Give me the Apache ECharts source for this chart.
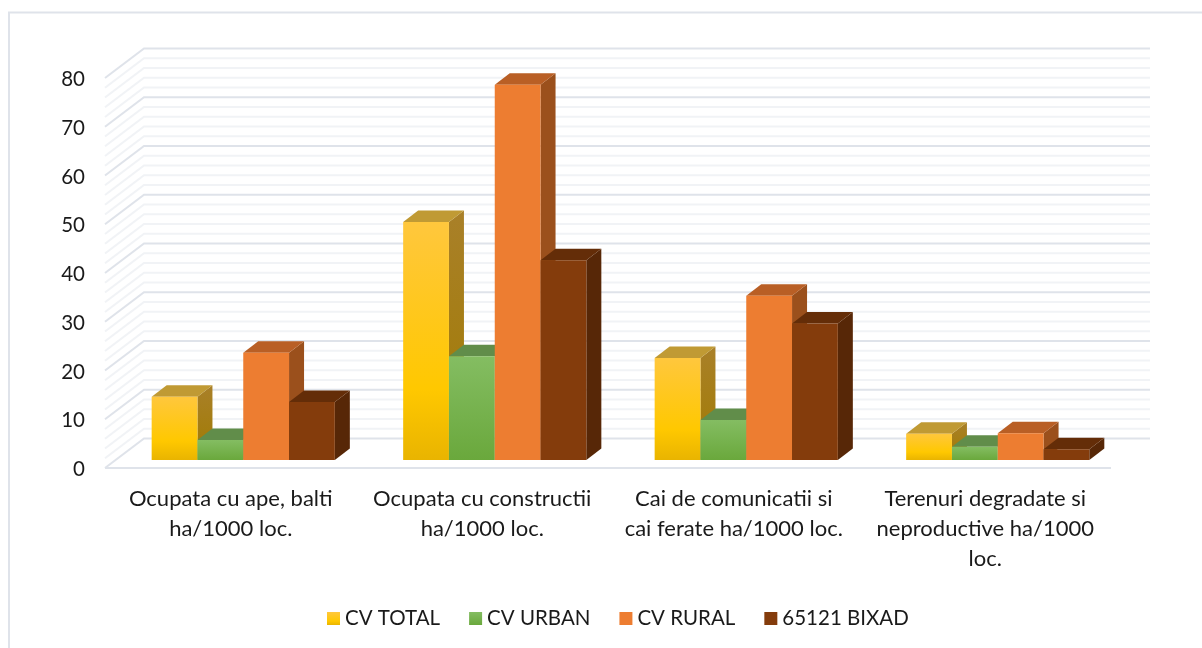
<!DOCTYPE html>
<html><head><meta charset="utf-8">
<style>html,body{margin:0;padding:0;background:#fff}#c{width:1202px;height:648px}</style>
<script src="https://cdn.jsdelivr.net/npm/echarts@6/dist/echarts.min.js"></script>
</head><body><div id="c"></div>
<script>
var categories = ['Ocupata cu ape, balti\nha/1000 loc.','Ocupata cu constructii\nha/1000 loc.','Cai de comunicatii si\ncai ferate ha/1000 loc.','Terenuri degradate si\nneproductive ha/1000\nloc.'];
var cvTotal = [13, 48.8, 20.9, 5.4];
var cvUrban = [4.1, 21.3, 8.2, 2.7];
var cvRural = [22, 77, 33.7, 5.5];
var bixad = [11.9, 41, 28, 2.2];
var gridValues = [0,2,4,6,8,10,12,14,16,18,20,22,24,26,28,30,32,34,36,38,40,42,44,46,48,50,52,54,56,58,60,62,64,66,68,70,72,74,76,78,80];

var FONT = 'Lato';
var WALL = [39, -29.5];
var BAR_SHIFT = [12.5, -8];
var BAR_DEPTH = [15, -11.5];
var BAR_RATIO = 183 / 251.25 / 4;

function grad(stops){ return {type:'linear',x:0,y:0,x2:0,y2:1,colorStops:stops.map(function(s){return {offset:s[0],color:s[1]};})}; }
var looks = [
 {front:grad([[0,'#ffc73d'],[0.7,'#ffc800'],[1,'#e9b400']]), side:grad([[0,'#a98029'],[1,'#a17b00']]), top:'#c09a34'},
 {front:grad([[0,'#84bd62'],[1,'#6aa83c']]), side:'#5f8a42', top:'#618d4a'},
 {front:'#ed7d31', side:'#9b501c', top:'#b95f25'},
 {front:'#843c0c', side:'#572707', top:'#642d08'}
];
var names = ['CV TOTAL','CV URBAN','CV RURAL','65121 BIXAD'];
var seriesValues = [cvTotal, cvUrban, cvRural, bixad];

function renderBar(look, slot){
  return function(params, api){
    var band = api.size([1,0])[0];
    var w = band * BAR_RATIO;
    var base = api.coord([api.value(0), 0]);
    var top = api.coord([api.value(0), api.value(1)]);
    var x0 = base[0] + BAR_SHIFT[0] + (slot - 2) * w;
    var x1 = x0 + w;
    var yb = base[1] + BAR_SHIFT[1];
    var yt = top[1] + BAR_SHIFT[1];
    var dx = BAR_DEPTH[0], dy = BAR_DEPTH[1];
    return {type:'group', children:[
      {type:'polygon', shape:{points:[[x1,yb],[x1+dx,yb+dy],[x1+dx,yt+dy],[x1,yt]]}, style:{fill:look.side}},
      {type:'polygon', shape:{points:[[x0,yt],[x0+dx,yt+dy],[x1+dx,yt+dy],[x1,yt]]}, style:{fill:look.top}},
      {type:'rect', shape:{x:x0,y:yt,width:w,height:yb-yt}, style:{fill:look.front}}
    ]};
  };
}
function renderWall(params, api){
  var v = api.value(0);
  var g = params.coordSys;
  var p = api.coord([0, v]);
  var left = g.x, right = g.x + g.width;
  var major = v % 10 === 0;
  var children = [{type:'polyline', shape:{points:[[left,p[1]],[left+WALL[0],p[1]+WALL[1]],[right+WALL[0],p[1]+WALL[1]]]},
     style:{fill:'none', stroke: major ? '#dfe3ea' : '#f1f3f6', lineWidth: 2}}];
  if (v === 0) children.push({type:'line', shape:{x1:left,y1:p[1],x2:right,y2:p[1]}, style:{stroke:'#dfe3ea',lineWidth:2}});
  return {type:'group', children:children};
}
var series = [{type:'custom', silent:true, clip:false, z:1, renderItem:renderWall, data:gridValues.map(function(v){return [v];}), encode:{y:0}, tooltip:{show:false}}];
names.forEach(function(n,i){
  series.push({type:'custom', name:n, clip:false, z:2+i, renderItem:renderBar(looks[i],i), itemStyle:{color:looks[i].front},
    data:seriesValues[i].map(function(v,k){return [k,v];}), encode:{x:0,y:1}});
});
var chart = echarts.init(document.getElementById('c'), null, {renderer:'canvas'});
chart.setOption({
  animation:false,
  backgroundColor:'#fff',
  graphic:[{type:'rect', shape:{x:9,y:12.5,width:1300,height:800}, style:{fill:'none',stroke:'#dfe3ea',lineWidth:2}, silent:true}],
  grid:{left:105,right:91,top:78,bottom:180},
  legend:{data:names,left:322,top:603,icon:'rect',itemWidth:13,itemHeight:13,itemGap:29,
    textStyle:{fontFamily:FONT,fontSize:20.5,color:'#1a1a1a'}},
  xAxis:{type:'category',data:categories,axisLine:{show:false},axisTick:{show:false},splitLine:{show:false},
    axisLabel:{interval:0,fontFamily:FONT,fontSize:22,color:'#1a1a1a',lineHeight:30,margin:16}},
  yAxis:{type:'value',min:0,max:80,interval:10,axisLine:{show:false},axisTick:{show:false},splitLine:{show:false},
    axisLabel:{margin:20,formatter:'{n|{value}}',rich:{n:{fontFamily:FONT,fontSize:20.5,color:'#1a1a1a',padding:[3,0,0,0]}}}},
  series:series
});
</script></body></html>
